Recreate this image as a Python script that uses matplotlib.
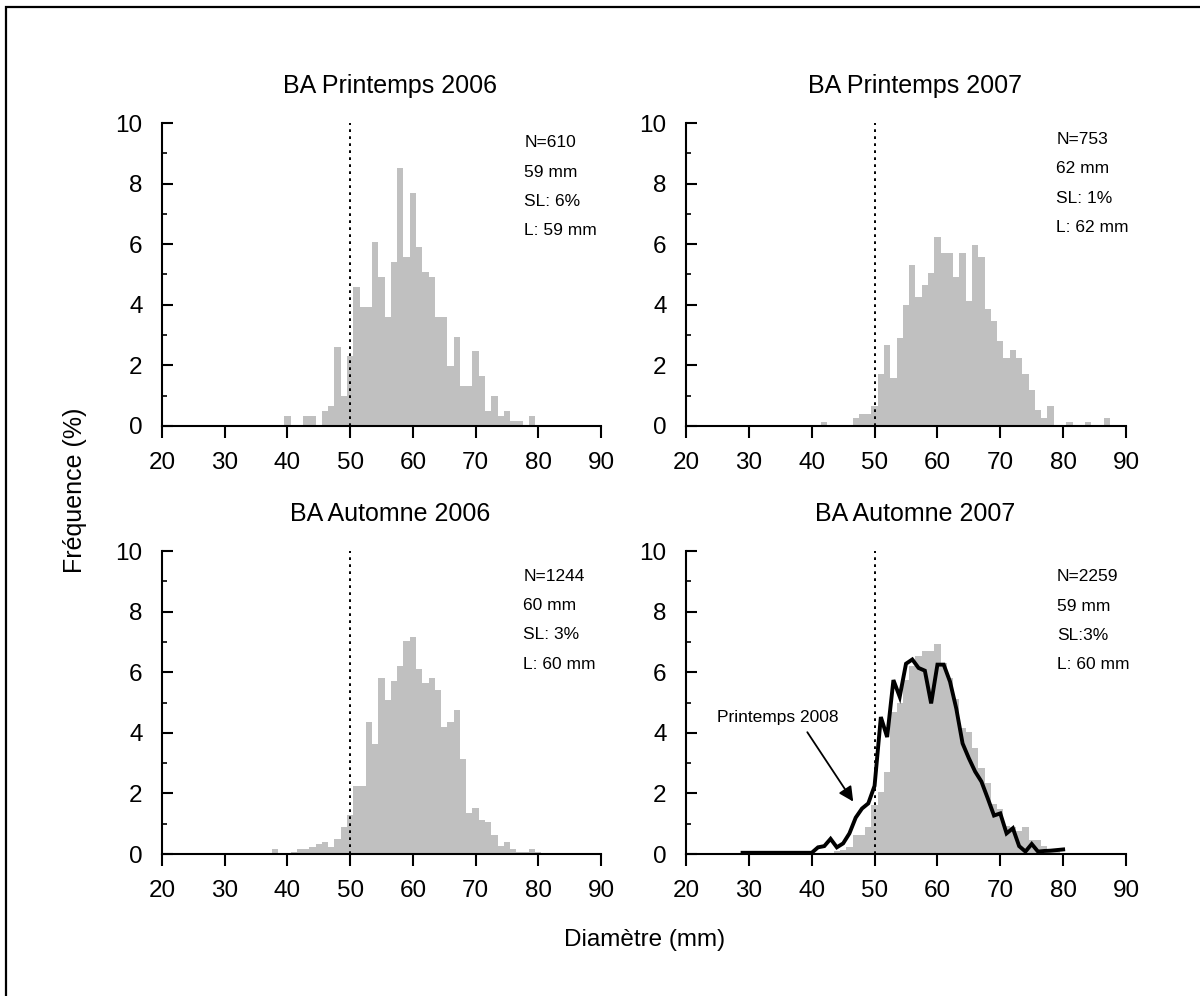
import matplotlib
matplotlib.use('Agg')
import matplotlib.pyplot as plt
from matplotlib.patches import Rectangle

plt.rcParams['font.family'] = ['Liberation Sans', 'DejaVu Sans']

# ---------------- data ----------------
titles = ['BA Printemps 2006', 'BA Printemps 2007', 'BA Automne 2006', 'BA Automne 2007']

p06_start = 40
p06_freq = [0.33, 0, 0, 0.33, 0.33, 0, 0.49, 0.66, 2.62, 0.98,
            2.30, 4.59, 3.93, 3.93, 6.07, 4.92, 3.61, 5.41, 8.52, 5.57,
            7.70, 5.90, 5.08, 4.92, 3.61, 3.61, 1.97, 2.95, 1.31, 1.31,
            2.46, 1.64, 0.49, 0.98, 0.33, 0.49, 0.16, 0.16, 0, 0.33]

p07_start = 42
p07_freq = [0.13, 0, 0, 0, 0, 0.27, 0.40, 0.40,
            0.66, 1.73, 2.66, 1.59, 2.92, 3.98, 5.31, 4.25, 4.65, 5.05,
            6.24, 5.71, 5.71, 4.91, 5.71, 4.12, 5.98, 5.58, 3.85, 3.45,
            2.79, 2.26, 2.52, 2.26, 1.73, 1.20, 0.53, 0.27, 0.66, 0,
            0, 0.13, 0, 0, 0.13, 0, 0, 0.27]

a06_start = 38
a06_freq = [0.16, 0, 0, 0.08, 0.16, 0.16, 0.24, 0.32, 0.40, 0.24, 0.48, 0.89,
            1.29, 2.24, 2.24, 4.36, 3.63, 5.81, 5.08, 5.71, 6.20, 7.03,
            7.16, 6.10, 5.64, 5.81, 5.41, 4.19, 4.36, 4.75, 3.14, 1.35,
            1.52, 1.12, 1.06, 0.63, 0.26, 0.40, 0.16, 0.08, 0.08, 0.16,
            0.08]

a07_start = 43
a07_freq = [0.04, 0.09, 0.13, 0.24, 0.63, 0.63, 0.90,
            1.62, 2.04, 2.72, 4.70, 5.00, 5.75, 6.20, 6.55, 6.70, 6.70,
            6.93, 6.30, 5.80, 5.10, 4.15, 4.04, 3.49, 2.85, 2.33, 1.64,
            1.47, 0.93, 0.88, 0.75, 0.90, 0.46, 0.46, 0.26, 0.13, 0.09,
            0.04, 0.04, 0.04, 0.04, 0.04, 0.04]

# Printemps 2008 curve (bottom-right panel)
p08_diam = [29, 40, 41, 42, 43, 44, 45, 46, 47, 48, 49, 50, 51, 52, 53, 54,
            55, 56, 57, 58, 59, 60, 61, 62, 63, 64, 65, 66, 67, 68, 69, 70,
            71, 72, 73, 74, 75, 76, 77, 78, 79, 80]
p08_freq = [0.04, 0.04, 0.22, 0.26, 0.50, 0.22, 0.35, 0.68, 1.20, 1.50, 1.67,
            2.25, 4.52, 3.86, 5.74, 5.19, 6.28, 6.42, 6.14, 6.05, 4.97,
            6.25, 6.25, 5.69, 4.80, 3.65, 3.16, 2.72, 2.39, 1.84, 1.27,
            1.34, 0.68, 0.85, 0.26, 0.08, 0.33, 0.08, 0.10, 0.11, 0.13, 0.15]

stats = [["N=610", "59 mm", "SL: 6%", "L: 59 mm"],
         ["N=753", "62 mm", "SL: 1%", "L: 62 mm"],
         ["N=1244", "60 mm", "SL: 3%", "L: 60 mm"],
         ["N=2259", "59 mm", "SL:3%", "L: 60 mm"]]

hist_starts = [p06_start, p07_start, a06_start, a07_start]
hist_freqs = [p06_freq, p07_freq, a06_freq, a07_freq]

# ---------------- layout ----------------
W, H = 1200, 996
fig = plt.figure(figsize=(W / 100, H / 100), dpi=100)

# border frame (top/left visible)
fig.patches.append(Rectangle((6 / W, -0.1), 1.2, 1 - 7 / H + 0.1,
                             transform=fig.transFigure, fill=False,
                             edgecolor='black', linewidth=1.6, clip_on=False))

panel_px = [(162, 123, 601, 426), (686, 123, 1126, 426),
            (162, 551, 601, 854), (686, 551, 1126, 854)]
text_x = [77.8, 78.9, 77.6, 79.0]
text_y0 = [9.35, 9.46, 9.17, 9.15]
text_dy = 0.97

gray = '#c0c0c0'

for i, (x0, y0, x1, y1) in enumerate(panel_px):
    ax = fig.add_axes([x0 / W, 1 - y1 / H, (x1 - x0) / W, (y1 - y0) / H])
    start = hist_starts[i]
    freq = hist_freqs[i]
    diam = list(range(start, start + len(freq)))
    ax.bar(diam, freq, width=1.0, color=gray, edgecolor='none', zorder=1)

    ax.plot([50, 50], [0, 10], color='black', lw=1.4,
            linestyle=(0, (1.4, 2.2)), zorder=3)

    ax.set_xlim(20, 90)
    ax.set_ylim(0, 10)
    for s in ['top', 'right']:
        ax.spines[s].set_visible(False)
    for s in ['left', 'bottom']:
        ax.spines[s].set_linewidth(1.5)
        ax.spines[s].set_zorder(4)
    ax.set_xticks(range(20, 91, 10))
    ax.set_yticks(range(0, 11, 2))
    ax.set_yticks(range(1, 10, 2), minor=True)
    ax.tick_params(axis='x', which='major', direction='out', length=8.5,
                   width=1.5, labelsize=17.5, pad=10)
    ax.tick_params(axis='y', which='major', direction='in', length=8,
                   width=1.5, labelsize=17.5, pad=14)
    ax.tick_params(axis='y', which='minor', direction='in', length=3.5,
                   width=1.2)
    ax.set_facecolor('none')

    ax.text(0.52, 1 + 30 / (y1 - y0), titles[i], transform=ax.transAxes,
            ha='center', va='baseline', fontsize=18)

    for k, s in enumerate(stats[i]):
        ax.text(text_x[i], text_y0[i] - k * text_dy, s, ha='left',
                va='center', fontsize=12.5)

    if i == 3:
        ax.plot(p08_diam, p08_freq, color='black', lw=2.8, zorder=2,
                solid_joinstyle='miter')
        ax.annotate('', xy=(46.6, 1.73), xytext=(39.3, 4.02),
                    arrowprops=dict(arrowstyle='-|>', color='black', lw=1.3,
                                    mutation_scale=22, shrinkA=0, shrinkB=0))
        ax.text(24.9, 4.52, 'Printemps 2008', ha='left', va='center',
                fontsize=12.5)

fig.text(75 / W, 1 - 490 / H, 'Fréquence (%)', rotation=90, ha='center',
         va='center', fontsize=18)
fig.text(645 / W, 1 - 940 / H, 'Diamètre (mm)', ha='center', va='center',
         fontsize=17.5)

fig.savefig('out.png', dpi=100)
